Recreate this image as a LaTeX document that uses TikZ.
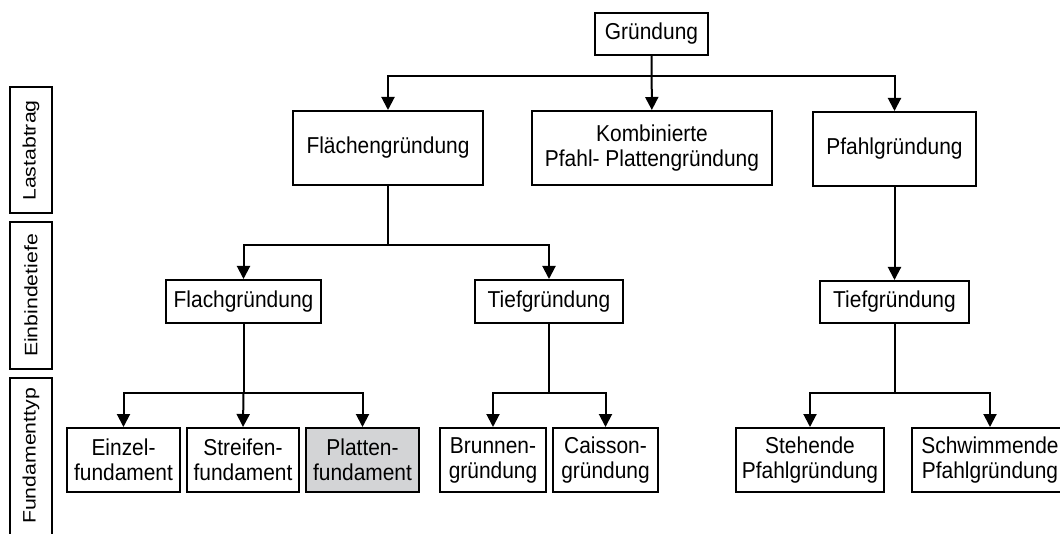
\documentclass[tikz,border=0pt]{standalone}
\usepackage{fontspec}
\setmainfont{Liberation Sans}[FakeStretch=0.91]
\newfontfamily\sidefont{Liberation Sans}[FakeStretch=1.18]
\usetikzlibrary{arrows.meta}
\definecolor{boxgray}{RGB}{211,212,214}
\tikzset{
  box/.style={draw, line width=2pt, align=center, inner sep=0pt,
    font=\fontsize{23}{25}\selectfont},
  vlab/.style={draw, line width=2pt, rotate=90, inner sep=0pt,
    minimum height=42pt, font=\sidefont\fontsize{18}{22}\selectfont},
  arr/.style={line width=2pt, -{Triangle[width=13pt,length=13pt]}},
  ln/.style={line width=2pt}
}
\begin{document}
\begin{tikzpicture}[x=1pt,y=-1pt]
\clip (0,0) rectangle (1060,534);
\fill[white] (0,0) rectangle (1060,534);
% left labels
\node[vlab, minimum width=126pt] (la) at (31,150.5) {Lastabtrag};
\node[vlab, minimum width=147pt] (eb) at (31,295.5) {Einbindetiefe};
\draw[ln] (10,378) rectangle (52,560);
\node[rotate=90, inner sep=0pt, font=\sidefont\fontsize{18}{22}\selectfont] (ft) at (31,456) {Fundamenttyp};
% level 0
\node[box, minimum width=113pt, minimum height=42pt] (gr) at (651.5,34) {Gründung};
% level 1
\node[box, minimum width=190pt, minimum height=74pt] (fl) at (388,148) {Flächengründung};
\node[box, minimum width=240pt, minimum height=74pt] (ko) at (652,148) {Kombinierte\\Pfahl- Plattengründung};
\node[box, minimum width=163pt, minimum height=74pt] (pf) at (894.5,149) {Pfahlgründung};
% level 2
\node[box, minimum width=155pt, minimum height=43pt] (fg) at (243.5,301.5) {Flachgründung};
\node[box, minimum width=148pt, minimum height=43pt] (tg) at (549,301.5) {Tiefgründung};
\node[box, minimum width=149pt, minimum height=42pt] (tg2) at (894.5,302) {Tiefgründung};
% level 3
\node[box, minimum width=113pt, minimum height=64pt] (ez) at (123.5,460) {Einzel-\\fundament};
\node[box, minimum width=112pt, minimum height=64pt] (sf) at (243,460) {Streifen-\\fundament};
\node[box, fill=boxgray, minimum width=113pt, minimum height=64pt] (pl) at (362.5,460) {Platten-\\fundament};
\node[box, minimum width=106pt, minimum height=64pt] (br) at (493,460) {Brunnen-\\gründung};
\node[box, minimum width=105pt, minimum height=64pt] (ca) at (605.5,460) {Caisson-\\gründung};
\node[box, minimum width=148pt, minimum height=64pt] (st) at (810,460) {Stehende\\Pfahlgründung};
\node[box, minimum width=156pt, minimum height=64pt] (sw) at (990,460) {Schwimmende\\Pfahlgründung};
% junctions
\coordinate (j1) at (651.5,76);
\coordinate (j2) at (388,245);
\coordinate (j3) at (243.5,393);
\coordinate (j4) at (549,393);
\coordinate (j5) at (894.5,393);
% connectors
\draw[arr] (gr) -- (ko);
\draw[arr] (j1) -| (fl.north);
\draw[arr] (j1) -| (pf.north);
\draw[ln] (fl.south) -- (j2);
\draw[arr] (j2) -| (fg.north);
\draw[arr] (j2) -| (tg.north);
\draw[arr] (pf) -- (tg2);
\draw[ln] (fg.south) -- (j3);
\draw[arr] (j3) -| (ez.north);
\draw[arr] (j3) -- (sf.north);
\draw[arr] (j3) -| (pl.north);
\draw[ln] (tg.south) -- (j4);
\draw[arr] (j4) -| (br.north);
\draw[arr] (j4) -| (ca.north);
\draw[ln] (tg2.south) -- (j5);
\draw[arr] (j5) -| (st.north);
\draw[arr] (j5) -| (sw.north);
\end{tikzpicture}
\end{document}
